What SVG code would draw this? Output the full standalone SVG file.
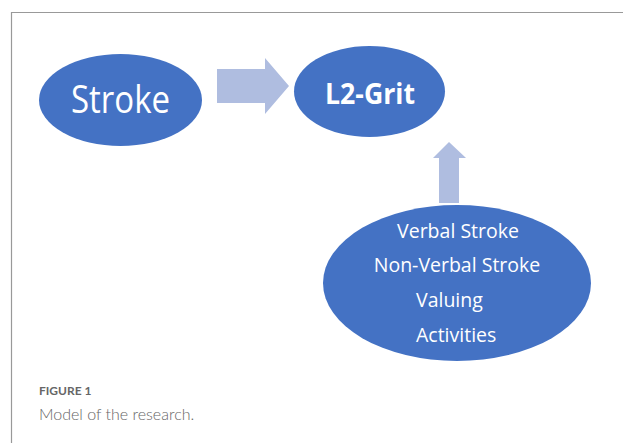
<svg xmlns="http://www.w3.org/2000/svg" width="623" height="443" viewBox="0 0 623 443">
<style>
.node{fill:#4472C4}
.arrow{fill:#AFBDE0}
.t{fill:#fff;font-family:"Open Sans","Noto Sans",sans-serif}
.cap{font-family:"Lato","Open Sans",sans-serif}
</style>
<rect width="623" height="443" fill="#fff"/>
<path d="M11.5 443V12.5H623" fill="none" stroke="#999" stroke-width="1.2"/>
<g id="connectors">
<polygon class="arrow" points="217,69 265,69 265,58 289,86 265,114 265,103 217,103"/>
<polygon class="arrow" points="439,203 439,158 433,158 449,142 466,158 459,158 459,203"/>
</g>
<g id="stroke">
<ellipse class="node" cx="120.5" cy="100" rx="81.5" ry="46"/>
<text class="t" x="71" y="113" font-size="38" textLength="99" lengthAdjust="spacingAndGlyphs">Stroke</text>
</g>
<g id="l2grit">
<ellipse class="node" cx="369.5" cy="91.5" rx="75.5" ry="45.5"/>
<text class="t" x="325" y="104" font-size="29" font-weight="bold" textLength="90" lengthAdjust="spacingAndGlyphs">L2-Grit</text>
</g>
<g id="factors">
<ellipse class="node" cx="457" cy="283" rx="134" ry="78"/>
<text class="t" x="458" y="238" font-size="19.5" text-anchor="middle">Verbal Stroke</text>
<text class="t" x="457" y="272" font-size="19.5" text-anchor="middle">Non-Verbal Stroke</text>
<text class="t" x="416" y="307" font-size="19.5">Valuing</text>
<text class="t" x="416" y="342" font-size="19.5">Activities</text>
</g>
<g id="caption">
<text class="cap" x="39" y="395" font-size="12" font-weight="bold" fill="#666">FIGURE 1</text>
<text class="cap" x="39" y="420" font-size="16" font-weight="300" fill="#666">Model of the research.</text>
</g>
</svg>
